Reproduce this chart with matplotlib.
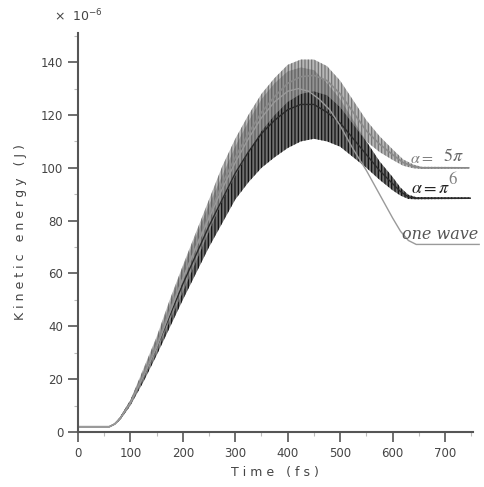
import matplotlib
matplotlib.use('Agg')
import matplotlib.pyplot as plt

# one wave (smooth curve)
t_one = [0, 60, 70, 80, 90, 100, 125, 150, 175, 200, 225, 250, 275, 300, 325, 350, 375, 400, 420,
         440, 460, 480, 500, 525, 550, 575, 600, 615, 630, 645, 765]
e_one = [2, 2, 3, 5, 8, 11, 21, 32, 45, 58, 70, 81, 92, 102, 111, 119, 125, 129, 130,
         129, 126, 122, 116, 107, 99, 90, 81, 76, 72.5, 71, 71]

# alpha = pi (dark oscillating band): centre and half width
t_pi = [0, 60, 70, 80, 90, 100, 125, 150, 175, 200, 225, 250, 275, 300, 325, 350, 375, 400, 425,
        450, 475, 500, 525, 550, 575, 600, 615, 630, 645, 748]
c_pi = [2, 2, 3, 5, 8, 11, 21, 32, 44, 56, 67, 78, 88, 98, 106, 113, 118, 122, 124,
        124, 121, 117, 111, 105, 99, 94, 91, 89, 88.5, 88.5]
w_pi = [0, 0, 0.2, 0.5, 0.8, 1, 2, 3, 4.5, 6, 7, 8, 9, 10, 11.5, 13, 14, 14.5, 14,
        13, 11, 9, 7, 5, 3.5, 2.5, 1.5, 0.8, 0.4, 0.3]

# alpha = 5pi/6 (grey oscillating band)
t_56 = [0, 60, 70, 80, 90, 100, 125, 150, 175, 200, 225, 250, 275, 300, 325, 350, 375, 400, 425,
        450, 475, 500, 525, 550, 575, 600, 620, 640, 655, 745]
c_56 = [2, 2, 3, 5, 8, 11, 22, 33, 46, 58, 70, 82, 94, 104, 113, 121, 127, 132, 134.5,
        135, 133, 128, 121, 114, 109, 105, 102, 100.5, 100, 100]
w_56 = [0, 0, 0.2, 0.5, 0.8, 1, 2, 3, 4, 5, 5.5, 6, 6.5, 7, 7, 7, 7, 7, 6.5,
        6, 5.5, 5, 4.5, 4, 3, 2, 1.2, 0.7, 0.4, 0.3]

plt.rcParams['hatch.linewidth'] = 0.9
plt.rcParams['mathtext.fontset'] = 'stix'

fig = plt.figure(figsize=(4.84, 4.87), dpi=100)
ax = fig.add_axes([0.161, 0.113, 0.816, 0.819])

lo = [c - w for c, w in zip(c_pi, w_pi)]
hi = [c + w for c, w in zip(c_pi, w_pi)]
ax.fill_between(t_pi, lo, hi, facecolor='#707070', edgecolor='#111111', hatch='|||||', linewidth=0)
ax.plot(t_pi, c_pi, color='#2a2a2a', lw=1.0)

lo = [c - w for c, w in zip(c_56, w_56)]
hi = [c + w for c, w in zip(c_56, w_56)]
ax.fill_between(t_56, lo, hi, facecolor='#a0a0a0', edgecolor='#5e5e5e', hatch='|||||',
                linewidth=0, alpha=0.75)
ax.plot(t_56, c_56, color='#8a8a8a', lw=1.2)

ax.plot(t_one, e_one, color='#9a9a9a', lw=1.0, clip_on=False)

# curve labels
ax.text(656, 100.6, r'$\alpha =$', fontsize=11.5, color='#808080', ha='center', va='bottom')
ax.text(715, 101.0, r'$5\pi$', fontsize=13, color='#666666', ha='center', va='bottom')
ax.text(715, 99.2, r'$6$', fontsize=12, color='#808080', ha='center', va='top')
ax.text(672, 88.8, r'$\alpha = \pi$', fontsize=13, color='#222222', ha='center', va='bottom')
ax.text(690, 71.6, 'one wave', fontsize=11.5, style='italic', family='DejaVu Serif',
        color='#555555', ha='center', va='bottom')

ax.set_xlim(0, 753)
ax.set_ylim(0, 151)
ax.set_xticks(range(0, 701, 100))
ax.set_yticks(range(0, 141, 20))
ax.set_xticks(range(50, 751, 100), minor=True)
ax.set_yticks(range(10, 151, 20), minor=True)

for s in ['top', 'right']:
    ax.spines[s].set_visible(False)
for s in ['left', 'bottom']:
    ax.spines[s].set_color('#555555')
    ax.spines[s].set_linewidth(1.5)
ax.tick_params(which='major', length=7, width=1.2, color='#555555', labelcolor='#444444', labelsize=8.5)
ax.tick_params(which='minor', length=3, width=0.8, color='#bbbbbb')

ax.set_xlabel('T i m e   ( f s )', fontsize=9, color='#444444', labelpad=5)
ax.set_ylabel('K i n e t i c   e n e r g y   ( J )', fontsize=9, color='#444444', labelpad=10)
ax.text(-0.06, 1.03, r'×  $\mathregular{10^{-6}}$', transform=ax.transAxes, fontsize=9, color='#444444')

plt.savefig('out.png')
